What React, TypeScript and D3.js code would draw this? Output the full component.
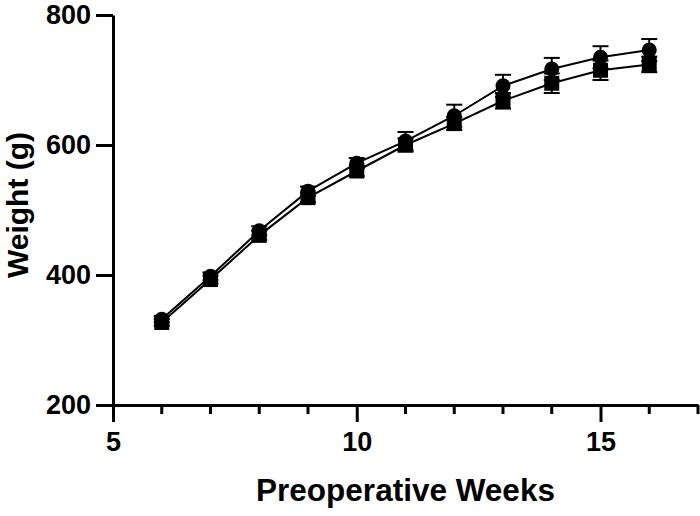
import React, { useEffect, useRef } from 'react';
import * as d3 from 'd3';

const weeks = [6, 7, 8, 9, 10, 11, 12, 13, 14, 15, 16];
// circle group (upper curve)
const circleMeans = [332, 398, 468, 529, 572, 606, 645, 691, 717, 735, 746];
const circleErr = [5, 6, 7, 7, 8, 14, 17, 17, 17, 17, 17];
// square group (lower curve)
const squareMeans = [327, 393, 461, 519, 560, 600, 633, 668, 695, 715, 724];
const squareErr = [5, 6, 7, 7, 8, 10, 10, 12, 15, 15, 12];

const xMajorTicks = [5, 10, 15];
const xMinorTicks = [6, 7, 8, 9, 11, 12, 13, 14, 16, 17];
const yTicks = [200, 400, 600, 800];

const width = 700;
const height = 516;
const FONT = '"Liberation Sans", Arial, Helvetica, sans-serif';

export default function App() {
  const svgRef = useRef<SVGSVGElement>(null);

  useEffect(() => {
    const svgElement = svgRef.current;
    if (!svgElement) return;
    const svg = d3.select(svgElement);
    svg.selectAll('*').remove();

    const x = d3.scaleLinear().domain([5, 17]).range([113, 698]);
    const y = d3.scaleLinear().domain([200, 800]).range([405, 15]);

    const g = svg.append('g');

    // Y axis
    const yAxis = g.append('g')
      .attr('transform', `translate(${x(5)},0)`)
      .call(d3.axisLeft(y).tickValues(yTicks).tickSize(17).tickPadding(5).tickSizeOuter(0));
    yAxis.select('.domain').attr('stroke', '#000').attr('stroke-width', 3);
    yAxis.selectAll('.tick line').attr('stroke', '#000').attr('stroke-width', 3);
    yAxis.selectAll('.tick text')
      .attr('fill', '#000')
      .style('font-family', FONT)
      .style('font-weight', 'bold')
      .style('font-size', '27px');

    // X axis
    const xAxis = g.append('g')
      .attr('transform', `translate(0,${y(200)})`)
      .call(d3.axisBottom(x).tickValues(xMajorTicks).tickSize(17).tickPadding(10).tickSizeOuter(0));
    xAxis.select('.domain').attr('stroke', '#000').attr('stroke-width', 3);
    xAxis.selectAll('.tick line').attr('stroke', '#000').attr('stroke-width', 3);
    xAxis.selectAll('.tick text')
      .attr('fill', '#000')
      .style('font-family', FONT)
      .style('font-weight', 'bold')
      .style('font-size', '27px');

    // minor ticks
    xAxis.selectAll('.minor')
      .data(xMinorTicks)
      .enter()
      .append('line')
      .attr('class', 'minor')
      .attr('x1', d => x(d))
      .attr('x2', d => x(d))
      .attr('y1', 0)
      .attr('y2', 9)
      .attr('stroke', '#000')
      .attr('stroke-width', 3);

    // Axis titles
    g.append('text')
      .attr('x', (x(5) + x(17)) / 2)
      .attr('y', 501)
      .attr('text-anchor', 'middle')
      .style('font-family', FONT)
      .style('font-weight', 'bold')
      .style('font-size', '31.5px')
      .text('Preoperative Weeks');

    g.append('text')
      .attr('transform', 'translate(28,205) rotate(-90)')
      .attr('text-anchor', 'middle')
      .style('font-family', FONT)
      .style('font-weight', 'bold')
      .style('font-size', '30px')
      .text('Weight (g)');

    const series = [
      { means: circleMeans, errs: circleErr, shape: 'circle' },
      { means: squareMeans, errs: squareErr, shape: 'square' },
    ];

    const line = d3.line<number>()
      .x((_, i) => x(weeks[i]))
      .y(d => y(d));

    // connecting lines
    series.forEach(s => {
      g.append('path')
        .datum(s.means)
        .attr('fill', 'none')
        .attr('stroke', '#000')
        .attr('stroke-width', 2)
        .attr('d', line);
    });

    const capHalf = 8;
    series.forEach(s => {
      const eb = g.append('g');
      s.means.forEach((m, i) => {
        const cx = x(weeks[i]);
        const top = y(m + s.errs[i]);
        const bottom = y(m - s.errs[i]);
        eb.append('line')
          .attr('x1', cx).attr('x2', cx)
          .attr('y1', top).attr('y2', bottom)
          .attr('stroke', '#000').attr('stroke-width', 2);
        [top, bottom].forEach(yy => {
          eb.append('line')
            .attr('x1', cx - capHalf).attr('x2', cx + capHalf)
            .attr('y1', yy).attr('y2', yy)
            .attr('stroke', '#000').attr('stroke-width', 2);
        });
      });

      if (s.shape === 'circle') {
        g.append('g').selectAll('circle')
          .data(s.means)
          .enter()
          .append('circle')
          .attr('cx', (_, i) => x(weeks[i]))
          .attr('cy', d => y(d))
          .attr('r', 7.5)
          .attr('fill', '#000');
      } else {
        g.append('g').selectAll('rect')
          .data(s.means)
          .enter()
          .append('rect')
          .attr('x', (_, i) => x(weeks[i]) - 7.5)
          .attr('y', d => y(d) - 7.5)
          .attr('width', 15)
          .attr('height', 15)
          .attr('fill', '#000');
      }
    });
  }, []);

  return (
    <svg
      ref={svgRef}
      width={width}
      height={height}
      style={{ position: 'absolute', left: 0, top: 0, background: '#fff' }}
    />
  );
}
